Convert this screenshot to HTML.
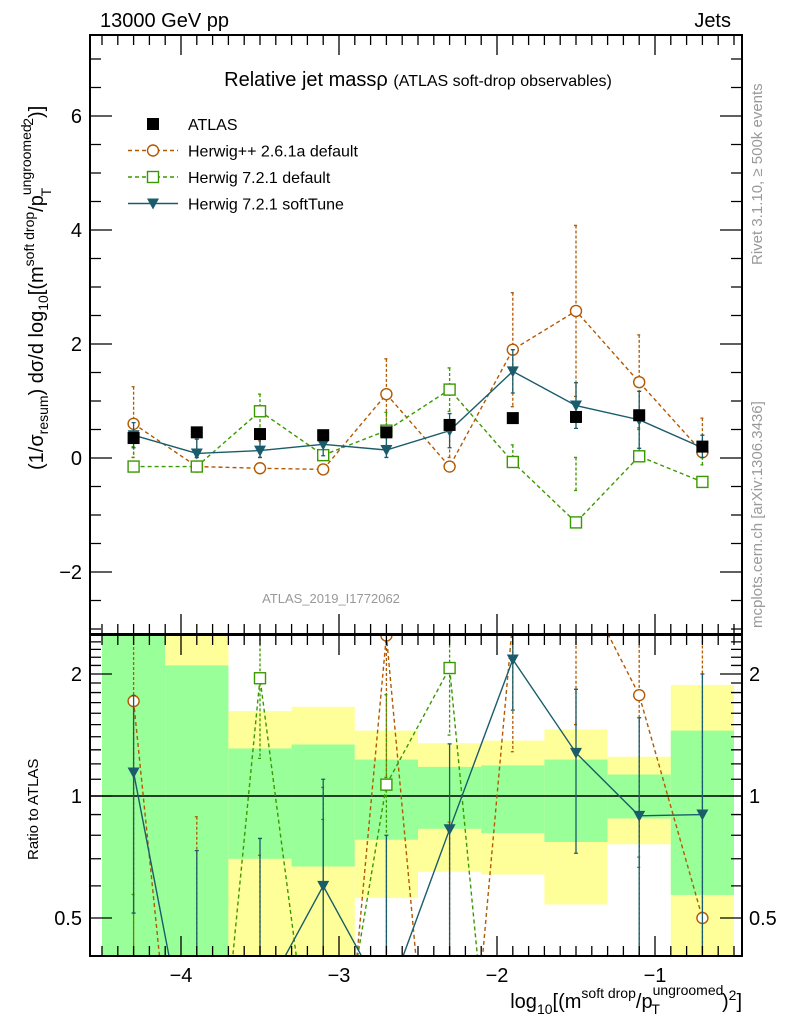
<!DOCTYPE html>
<html><head><meta charset="utf-8"><style>
html,body{margin:0;background:#fff;width:786px;height:1024px;overflow:hidden}
svg{display:block;font-family:"Liberation Sans",sans-serif}
</style></head><body>
<svg id="c" width="786" height="1024" viewBox="0 0 786 1024" xmlns="http://www.w3.org/2000/svg">
<defs>
<clipPath id="mainClip"><rect x="90" y="35" width="652" height="599"/></clipPath>
<clipPath id="ratioClip"><rect x="90" y="635" width="652" height="321"/></clipPath>
</defs>
<g id="bands" clip-path="url(#ratioClip)"></g>
<g id="ratioMarks" clip-path="url(#ratioClip)"></g>
<g id="mainMarks" clip-path="url(#mainClip)"></g>
<g id="axes"></g>
<text x="100" y="27" font-size="20">13000 GeV pp</text>
<text x="731" y="27" font-size="20" text-anchor="end">Jets</text>
<text x="418" y="86" font-size="20" text-anchor="middle">Relative jet massρ <tspan font-size="16">(ATLAS soft-drop observables)</tspan></text>
<text x="331" y="603" font-size="13" fill="#999" text-anchor="middle">ATLAS_2019_I1772062</text>
<text transform="translate(762,265) rotate(-90)" font-size="15" fill="#999">Rivet 3.1.10, ≥ 500k events</text>
<text transform="translate(762,628) rotate(-90)" font-size="15" fill="#999">mcplots.cern.ch [arXiv:1306.3436]</text>
<text transform="translate(43,470) rotate(-90)" font-size="20">(1/σ<tspan font-size="14" dy="5">resum</tspan><tspan dy="-5">) dσ/d log</tspan><tspan font-size="14" dy="5">10</tspan><tspan dy="-5">[(m</tspan><tspan font-size="14" dy="-9">soft drop</tspan><tspan dy="9">/p</tspan><tspan font-size="14" dy="-12">ungroomed</tspan><tspan font-size="14" dx="-72" dy="20">T</tspan><tspan font-size="14" dx="62" dy="-18">2</tspan><tspan dy="10">)]</tspan></text>
<text transform="translate(38,860) rotate(-90)" font-size="15">Ratio to ATLAS</text>
<text x="742" y="1008" font-size="20" text-anchor="end">log<tspan font-size="14" dy="6">10</tspan><tspan dy="-6">[(m</tspan><tspan font-size="14" dy="-10">soft drop</tspan><tspan dy="10">/p</tspan><tspan font-size="14" dy="-13">ungroomed</tspan><tspan font-size="14" dx="-72" dy="19">T</tspan><tspan dx="62" dy="-6">)</tspan><tspan font-size="14" dy="-8">2</tspan><tspan dy="8">]</tspan></text>
<g id="legend"></g>
</svg>
<script>
const xCenters=[-4.3,-3.9,-3.5,-3.1,-2.7,-2.3,-1.9,-1.5,-1.1,-0.7];
const binEdges=[-4.5,-4.1,-3.7,-3.3,-2.9,-2.5,-2.1,-1.7,-1.3,-0.9,-0.5];
const atlasVals=[0.35,0.45,0.42,0.40,0.45,0.58,0.70,0.72,0.75,0.20];
const atlasErr=[0.08,0.06,0.06,0.06,0.06,0.07,0.07,0.07,0.07,0.07];
const hppVals=[0.60,-0.15,-0.18,-0.20,1.12,-0.15,1.90,2.58,1.33,0.10];
const hppErr=[0.65,0.55,0.48,0.62,0.62,0.65,1.00,1.50,0.83,0.60];
const h721Vals=[-0.15,-0.15,0.82,0.05,0.48,1.20,-0.07,-1.13,0.03,-0.42];
const h721Err=[0.35,0.30,0.30,0.30,0.32,0.38,0.30,0.56,0.50,0.30];
const softVals=[0.40,0.08,0.13,0.24,0.14,0.48,1.52,0.92,0.67,0.18];
const softErr=[0.22,0.25,0.20,0.20,0.22,0.30,0.38,0.40,0.50,0.22];
const greenHi=[3,2.10,1.31,1.34,1.23,1.18,1.19,1.23,1.13,1.45];
const greenLo=[0.3,0.3,0.70,0.67,0.78,0.83,0.81,0.77,0.88,0.57];
const yellowHi=[3,3,1.62,1.66,1.45,1.35,1.37,1.46,1.25,1.88];
const yellowLo=[0.3,0.3,0.3,0.3,0.56,0.65,0.64,0.54,0.76,0.3];
const mainYTicks=[-2,0,2,4,6];
const ratioYTicks=[0.5,1,2];
const xTicks=[-4,-3,-2,-1];

const NS="http://www.w3.org/2000/svg";
const X=v=>181+(v+4)*158;
const Y=v=>458-v*57;
const R=v=>796-Math.log2(v)*122;
function mk(p,tag,at){const e=document.createElementNS(NS,tag);for(const k in at)e.setAttribute(k,at[k]);p.appendChild(e);return e;}
const bands=document.getElementById('bands');
for(let i=0;i<xCenters.length;i++){
  const x0=X(binEdges[i]),x1=X(binEdges[i+1]);
  let r=mk(bands,'rect',{x:x0,y:R(yellowHi[i]),width:x1-x0,height:R(yellowLo[i])-R(yellowHi[i]),fill:'#ffff99'});
  
  
  r=mk(bands,'rect',{x:x0,y:R(greenHi[i]),width:x1-x0,height:R(greenLo[i])-R(greenHi[i]),fill:'#99ff99'});
  
  
}
const series=[
 {name:'herwigpp',vals:hppVals,err:hppErr,col:'#b35900',dash:'4,3',mark:'circle'},
 {name:'herwig721',vals:h721Vals,err:h721Err,col:'#3a9900',dash:'4,3',mark:'square'},
 {name:'softtune',vals:softVals,err:softErr,col:'#1a5c6b',dash:'',mark:'tri'}
];
function marker(g,type,x,y,col,nm){
  let e;
  if(type==='circle')e=mk(g,'circle',{cx:x,cy:y,r:5.5,fill:'#fff',stroke:col,'stroke-width':1.4});
  else if(type==='square')e=mk(g,'rect',{x:x-5.5,y:y-5.5,width:11,height:11,fill:'#fff',stroke:col,'stroke-width':1.4});
  else if(type==='tri')e=mk(g,'path',{d:`M${x-6},${y-5}L${x+6},${y-5}L${x},${y+6}Z`,fill:col});
  else e=mk(g,'rect',{x:x-6,y:y-6,width:12,height:12,fill:'#000'});
  
  
}
function drawPanel(g,yf,valsOf,errOf){
  series.forEach(s=>{
    const v=s.vals.map((a,i)=>valsOf(a,i)),er=s.err.map((a,i)=>errOf(a,i));
    const pl=mk(g,'polyline',{points:v.map((a,i)=>X(xCenters[i])+','+yf(a)).join(' '),fill:'none',stroke:s.col,'stroke-width':1.4,'stroke-dasharray':s.dash});
    
    
    v.forEach((a,i)=>{
      const x=X(xCenters[i]),lo=Math.max(a-er[i],0.01);
      const l=mk(g,'path',{d:`M${x},${yf(a+er[i])}L${x},${yf(lo)}M${x-2},${yf(a+er[i])}h4M${x-2},${yf(lo)}h4`,stroke:s.col,'stroke-width':1.3,'stroke-dasharray':s.dash?'3,2':''});
      
      
      marker(g,s.mark,x,yf(a),s.col,s.name+'-point');
    });
  });
}
const mm=document.getElementById('mainMarks');
drawPanel(mm,Y,a=>a,a=>a);
atlasVals.forEach((a,i)=>{
  const x=X(xCenters[i]);
  const l=mk(mm,'path',{d:`M${x},${Y(a+atlasErr[i])}L${x},${Y(a-atlasErr[i])}`,stroke:'#000','stroke-width':1.3});
  
  
  marker(mm,'data',x,Y(a),'#000','atlas-point');
});
const rm=document.getElementById('ratioMarks');
let ln=mk(rm,'line',{x1:90,x2:742,y1:R(1),y2:R(1),stroke:'#000','stroke-width':1.4});


drawPanel(rm,v=>R(Math.max(v,0.05)),(a,i)=>a/atlasVals[i],(a,i)=>a/atlasVals[i]);

const ax=document.getElementById('axes');
function frame(y0,y1,nm){const r=mk(ax,'rect',{x:90,y:y0,width:652,height:y1-y0,fill:'none',stroke:'#000','stroke-width':2});}
frame(35,634,'main-frame');frame(635,956,'ratio-frame');
let d='';
for(let v=-4.5;v<=-0.45;v+=0.1){const x=X(v);const maj=Math.abs(v-Math.round(v))<0.01;const L=maj?20:10;
  d+=`M${x},634v${-L}M${x},35v${L}M${x},956v${-L}M${x},635v${L}`;}
for(let v=-3;v<=7.4;v+=0.5){const y=Y(v);if(y<35||y>634)continue;const maj=Math.abs(v%2)<0.01;const L=maj?22:11;d+=`M90,${y}h${L}M742,${y}h${-L}`;}
for(let v=0.4;v<=2.5;v+=0.1){const y=R(v);if(y<635||y>956)continue;const maj=[0.5,1,2].some(t=>Math.abs(v-t)<0.01);const L=maj?22:11;d+=`M90,${y}h${L}M742,${y}h${-L}`;}
const tk=mk(ax,'path',{d:d,stroke:'#000','stroke-width':1.3,fill:'none'});


mainYTicks.forEach(v=>{const t=mk(ax,'text',{x:82,y:Y(v)+7,'font-size':20,'text-anchor':'end'});t.textContent=(v<0?'\u2212':'')+Math.abs(v);});
ratioYTicks.forEach(v=>{[[82,'end'],[749,'start']].forEach(([x,a])=>{const t=mk(ax,'text',{x:x,y:R(v)+7,'font-size':20,'text-anchor':a});t.textContent=String(v);});});
xTicks.forEach(v=>{const t=mk(ax,'text',{x:X(v),y:982,'font-size':20,'text-anchor':'middle'});t.textContent='\u2212'+Math.abs(v);});

const lg=document.getElementById('legend');
const leg=[['ATLAS','data','#000',''],['Herwig++ 2.6.1a default','circle','#b35900','4,3'],['Herwig 7.2.1 default','square','#3a9900','4,3'],['Herwig 7.2.1 softTune','tri','#1a5c6b','']];
leg.forEach((e,i)=>{const y=124+i*26.5;
  if(i>0){const l=mk(lg,'line',{x1:128,x2:178,y1:y,y2:y,stroke:e[2],'stroke-width':1.4,'stroke-dasharray':e[3]});}
  marker(lg,e[1],153,y,e[2],'legend-marker');
  const t=mk(lg,'text',{x:188,y:y+6,'font-size':16});t.textContent=e[0];
  
  
});
</script>
</body></html>
